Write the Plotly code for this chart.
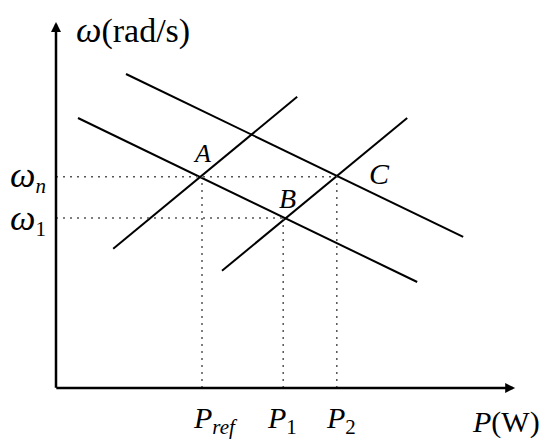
import plotly.graph_objects as go

# diagram coordinates (arbitrary units, origin at the axes corner)
droop_low_x = [0.55, 9.03]
droop_low_y = [6.75, 2.65]
droop_high_x = [1.75, 10.18]
droop_high_y = [7.85, 3.78]
load_left_x = [1.43, 6.03]
load_left_y = [3.48, 7.28]
load_right_x = [4.15, 8.78]
load_right_y = [2.93, 6.75]

omega_n = 5.28
omega_1 = 4.25
p_ref = 3.65
p_1 = 5.68
p_2 = 7.02

x_axis_end = 11.48
y_axis_end = 9.15

FONT = "Liberation Serif"
LINE = dict(color="black", width=2)
DOT = dict(color="#555555", width=1.5, dash="2px,5px")

fig = go.Figure()

for xs, ys in [
    (droop_low_x, droop_low_y),
    (droop_high_x, droop_high_y),
    (load_left_x, load_left_y),
    (load_right_x, load_right_y),
]:
    fig.add_trace(go.Scatter(x=xs, y=ys, mode="lines", line=LINE, hoverinfo="skip"))

# dotted guides
dotted = [
    ([0, p_2], [omega_n, omega_n]),
    ([0, p_1], [omega_1, omega_1]),
    ([p_ref, p_ref], [0, omega_n]),
    ([p_1, p_1], [0, omega_1]),
    ([p_2, p_2], [0, omega_n]),
]
for xs, ys in dotted:
    fig.add_trace(go.Scatter(x=xs, y=ys, mode="lines", line=DOT, hoverinfo="skip"))

# axes with arrows
fig.add_annotation(x=0, y=y_axis_end, ax=0, ay=-0.03, axref="x", ayref="y",
                   showarrow=True, arrowhead=2, arrowwidth=2.5, arrowsize=0.8,
                   arrowcolor="black", text="")
fig.add_annotation(x=x_axis_end, y=0, ax=-0.03, ay=0, axref="x", ayref="y",
                   showarrow=True, arrowhead=2, arrowwidth=2.5, arrowsize=0.8,
                   arrowcolor="black", text="")


def label(text, x, y, size=30, xanchor="center", yanchor="middle"):
    fig.add_annotation(x=x, y=y, text=text, showarrow=False,
                       xanchor=xanchor, yanchor=yanchor,
                       font=dict(family=FONT, size=size, color="black"))


W = '<span style="font-size:36px"><i>ω</i></span>'
label(W + "(rad/s)", 0.45, 8.95, size=34, xanchor="left")
label(W + "<sub><i>n</i></sub>", -0.7, 5.3)
label(W + "<sub>1</sub>", -0.7, 4.22)
label("<i>A</i>", 3.65, 5.875, size=26)
label("<i>B</i>", 5.775, 4.75, size=28)
label("<i>C</i>", 8.075, 5.375, size=30)
label("<i>P</i><sub><i>ref</i></sub>", 3.975, -0.8)
label("<i>P</i><sub>1</sub>", 5.65, -0.8)
label("<i>P</i><sub>2</sub>", 7.125, -0.8)
label("<i>P</i>(W)", 11.25, -0.85)

# page body has an 8px margin, so the figure is shifted by 8px
fig.update_xaxes(range=[-1.2, 12.35], visible=False, fixedrange=True)
fig.update_yaxes(range=[-1.475, 9.5], visible=False, fixedrange=True)
fig.update_layout(
    width=542,
    height=439,
    margin=dict(l=0, r=0, t=0, b=0),
    showlegend=False,
    plot_bgcolor="white",
    paper_bgcolor="white",
)
fig.write_html("out.html")
